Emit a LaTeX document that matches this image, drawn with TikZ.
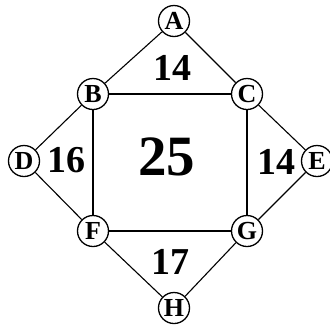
\documentclass[tikz,border=0pt]{standalone}
\usepackage{fontspec}
\setmainfont{Liberation Serif}
\begin{document}
\begin{tikzpicture}[x=1pt,y=-1pt,
  vtx/.style={circle,draw,line width=1.3pt,fill=white,inner sep=0pt,minimum size=31pt,font=\fontsize{26}{26}\selectfont\bfseries},
  edge/.style={line width=1.1pt},
  num/.style={font=\fontsize{38}{38}\selectfont\bfseries},
  big/.style={font=\fontsize{57}{57}\selectfont\bfseries}]
\useasboundingbox (0,0) rectangle (330,325);
\node[vtx] (A) at (174,21) {A};
\node[vtx] (B) at (93,94) {B};
\node[vtx] (C) at (247,94) {C};
\node[vtx] (D) at (24,161) {D};
\node[vtx] (E) at (317,161) {E};
\node[vtx] (F) at (93,231) {F};
\node[vtx] (G) at (247,231) {G};
\node[vtx] (H) at (174,308) {H};
\draw[edge] (A) -- (B);
\draw[edge] (A) -- (C);
\draw[edge] (B) -- (C);
\draw[edge] (B) -- (D);
\draw[edge] (B) -- (F);
\draw[edge] (C) -- (E);
\draw[edge] (C) -- (G);
\draw[edge] (D) -- (F);
\draw[edge] (E) -- (G);
\draw[edge] (F) -- (G);
\draw[edge] (F) -- (H);
\draw[edge] (G) -- (H);
\node[num] (n1) at (172,68) {14};
\node[big] (n2) at (167,157) {25};
\node[num] (n3) at (66,160) {16};
\node[num] (n4) at (276,162) {14};
\node[num] (n5) at (170,262) {17};
\end{tikzpicture}
\end{document}
